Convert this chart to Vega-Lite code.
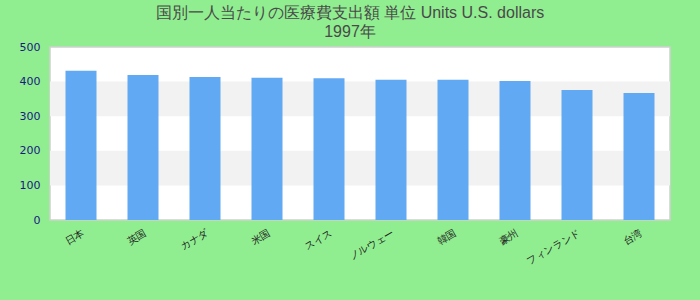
{
  "$schema": "https://vega.github.io/schema/vega-lite/v6.json",
  "autosize": "none",
  "width": 620,
  "height": 173,
  "padding": {"left": 50, "top": 47, "right": 30, "bottom": 80},
  "background": "#90ee90",
  "title": {
    "text": ["国別一人当たりの医療費支出額 単位 Units U.S. dollars", "1997年"],
    "anchor": "middle",
    "frame": "group",
    "dx": -10,
    "offset": 1,
    "font": "Liberation Sans",
    "fontSize": 16,
    "fontWeight": "normal",
    "lineHeight": 19,
    "color": "#4a4a4a"
  },
  "datasets": {
    "bars": [
      {"country": "日本", "value": 431},
      {"country": "英国", "value": 419},
      {"country": "カナダ", "value": 413},
      {"country": "米国", "value": 411},
      {"country": "スイス", "value": 410},
      {"country": "ノルウェー", "value": 405},
      {"country": "韓国", "value": 405},
      {"country": "豪州", "value": 402},
      {"country": "フィンランド", "value": 376},
      {"country": "台湾", "value": 367}
    ],
    "bands": [
      {"from": 100, "to": 200},
      {"from": 300, "to": 400}
    ]
  },
  "layer": [
    {
      "data": {"name": "bands"},
      "mark": {"type": "rect", "color": "#f2f2f2"},
      "encoding": {
        "y": {
          "field": "from",
          "type": "quantitative",
          "scale": {"domain": [0, 500]},
          "axis": {
            "title": null,
            "values": [0, 100, 200, 300, 400, 500],
            "grid": false,
            "ticks": false,
            "domain": false,
            "labelOverlap": false,
            "labelFont": "DejaVu Sans",
            "labelFontSize": 11,
            "labelColor": "#1a1a80",
            "labelPadding": 10
          }
        },
        "y2": {"field": "to"}
      }
    },
    {
      "data": {"name": "bars"},
      "mark": {"type": "bar", "color": "#62a9f4"},
      "encoding": {
        "x": {
          "field": "country",
          "type": "nominal",
          "sort": null,
          "scale": {"paddingInner": 0.5, "paddingOuter": 0.25},
          "axis": {
            "title": null,
            "labelAngle": -30,
            "labelFont": "DejaVu Sans",
            "labelFontSize": 10,
            "labelColor": "#222222",
            "ticks": false,
            "domain": false,
            "labelPadding": 8
          }
        },
        "y": {
          "field": "value",
          "type": "quantitative",
          "scale": {"domain": [0, 500]},
          "axis": {
            "title": null,
            "values": [0, 100, 200, 300, 400, 500],
            "grid": false,
            "ticks": false,
            "domain": false,
            "labelOverlap": false,
            "labelFont": "DejaVu Sans",
            "labelFontSize": 11,
            "labelColor": "#1a1a80",
            "labelPadding": 10
          }
        }
      }
    }
  ],
  "config": {
    "view": {"fill": "white", "stroke": "#d0d0d0", "strokeWidth": 1.5}
  }
}
